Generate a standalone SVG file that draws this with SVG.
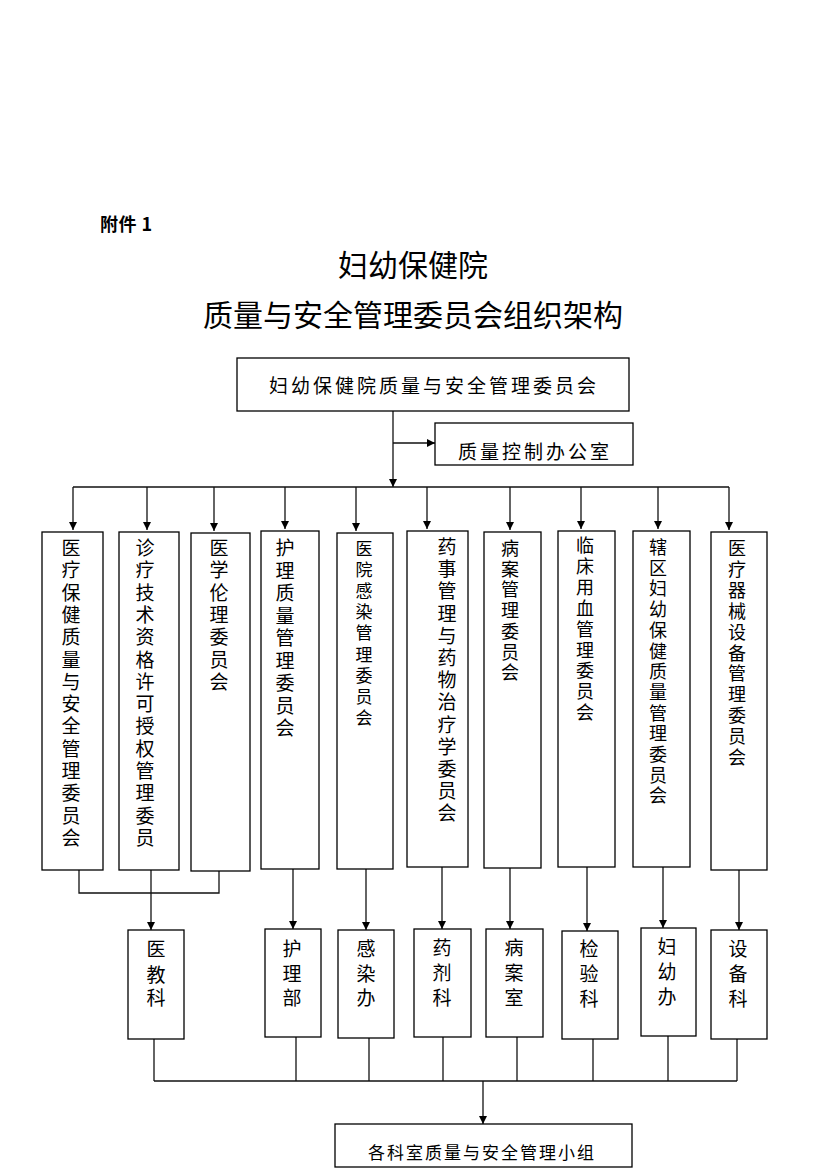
<svg xmlns="http://www.w3.org/2000/svg" width="826" height="1169" viewBox="0 0 826 1169">
<style>
  .bx{fill:#fff;stroke:#000;stroke-width:1.3}
  .ln{fill:none;stroke:#111;stroke-width:1.3}
  .t{font-family:"Noto Sans CJK SC","Noto Sans CJK JP",sans-serif;fill:#000}
  .v{font-size:19px;text-anchor:middle}
  .s{font-size:18px}
  .h{font-size:19px;letter-spacing:3px}
</style>
<defs>
  <marker id="ah" markerUnits="userSpaceOnUse" markerWidth="8" markerHeight="8" refX="8" refY="4" orient="auto">
    <path d="M0,0 L8,4 L0,8 z" fill="#000"/>
  </marker>
</defs>
<rect width="826" height="1169" fill="#fff"/>

<g id="titles">
  <text class="t" x="100" y="231" font-size="18" font-weight="bold" letter-spacing="0.5">附件 1</text>
  <text class="t" x="413" y="276" font-size="30" text-anchor="middle">妇幼保健院</text>
  <text class="t" x="413" y="326" font-size="30" text-anchor="middle">质量与安全管理委员会组织架构</text>
</g>

<g id="connectors">
  <line class="ln" x1="393" y1="411" x2="393" y2="487" marker-end="url(#ah)"/>
  <line class="ln" x1="393" y1="443" x2="435" y2="443" marker-end="url(#ah)"/>
  <line class="ln" x1="73" y1="487" x2="729" y2="487"/>
  <line class="ln" x1="73" y1="487" x2="73" y2="530" marker-end="url(#ah)"/>
  <line class="ln" x1="147" y1="487" x2="147" y2="530" marker-end="url(#ah)"/>
  <line class="ln" x1="214" y1="487" x2="214" y2="531" marker-end="url(#ah)"/>
  <line class="ln" x1="285" y1="487" x2="285" y2="529" marker-end="url(#ah)"/>
  <line class="ln" x1="356" y1="487" x2="356" y2="531" marker-end="url(#ah)"/>
  <line class="ln" x1="427" y1="487" x2="427" y2="529" marker-end="url(#ah)"/>
  <line class="ln" x1="510" y1="487" x2="510" y2="530" marker-end="url(#ah)"/>
  <line class="ln" x1="581" y1="487" x2="581" y2="529" marker-end="url(#ah)"/>
  <line class="ln" x1="658" y1="487" x2="658" y2="529" marker-end="url(#ah)"/>
  <line class="ln" x1="729" y1="487" x2="729" y2="530" marker-end="url(#ah)"/>

  <polyline class="ln" points="79,870 79,893 219,893 219,871"/>
  <line class="ln" x1="151" y1="870" x2="151" y2="893"/>
  <line class="ln" x1="151" y1="893" x2="151" y2="930" marker-end="url(#ah)"/>
  <line class="ln" x1="293" y1="869" x2="293" y2="929" marker-end="url(#ah)"/>
  <line class="ln" x1="366" y1="869" x2="366" y2="930" marker-end="url(#ah)"/>
  <line class="ln" x1="442" y1="867" x2="442" y2="929" marker-end="url(#ah)"/>
  <line class="ln" x1="510" y1="868" x2="510" y2="929" marker-end="url(#ah)"/>
  <line class="ln" x1="587" y1="867" x2="587" y2="931" marker-end="url(#ah)"/>
  <line class="ln" x1="663" y1="867" x2="663" y2="928" marker-end="url(#ah)"/>
  <line class="ln" x1="739" y1="870" x2="739" y2="930" marker-end="url(#ah)"/>

  <line class="ln" x1="154" y1="1081" x2="737" y2="1081"/>
  <line class="ln" x1="154" y1="1039" x2="154" y2="1081"/>
  <line class="ln" x1="296" y1="1037" x2="296" y2="1081"/>
  <line class="ln" x1="369" y1="1038" x2="369" y2="1081"/>
  <line class="ln" x1="443" y1="1037" x2="443" y2="1081"/>
  <line class="ln" x1="517" y1="1037" x2="517" y2="1081"/>
  <line class="ln" x1="593" y1="1039" x2="593" y2="1081"/>
  <line class="ln" x1="668" y1="1036" x2="668" y2="1081"/>
  <line class="ln" x1="737" y1="1039" x2="737" y2="1081"/>
  <line class="ln" x1="483" y1="1081" x2="483" y2="1124" marker-end="url(#ah)"/>
</g>

<g id="top">
  <rect class="bx" x="237" y="358" width="392" height="53"/>
  <text class="t h" x="269" y="393">妇幼保健院质量与安全管理委员会</text>
</g>
<g id="qc">
  <rect class="bx" x="435" y="423" width="198" height="42"/>
  <text class="t h" x="458" y="459">质量控制办公室</text>
</g>

<g id="c1">
  <rect class="bx" x="42" y="532" width="61" height="338"/>
  <text class="t v"><tspan x="71" y="555">医</tspan><tspan x="71" y="577.3">疗</tspan><tspan x="71" y="599.6">保</tspan><tspan x="71" y="621.9">健</tspan><tspan x="71" y="644.2">质</tspan><tspan x="71" y="666.5">量</tspan><tspan x="71" y="688.8">与</tspan><tspan x="71" y="711.1">安</tspan><tspan x="71" y="733.4">全</tspan><tspan x="71" y="755.7">管</tspan><tspan x="71" y="778">理</tspan><tspan x="71" y="800.3">委</tspan><tspan x="71" y="822.6">员</tspan><tspan x="71" y="844.9">会</tspan></text>
</g>
<g id="c2">
  <rect class="bx" x="119" y="532" width="60" height="338"/>
  <text class="t v"><tspan x="145" y="555">诊</tspan><tspan x="145" y="577.3">疗</tspan><tspan x="145" y="599.6">技</tspan><tspan x="145" y="621.9">术</tspan><tspan x="145" y="644.2">资</tspan><tspan x="145" y="666.5">格</tspan><tspan x="145" y="688.8">许</tspan><tspan x="145" y="711.1">可</tspan><tspan x="145" y="733.4">授</tspan><tspan x="145" y="755.7">权</tspan><tspan x="145" y="778">管</tspan><tspan x="145" y="800.3">理</tspan><tspan x="145" y="822.6">委</tspan><tspan x="145" y="844.9">员</tspan></text>
</g>
<g id="c3">
  <rect class="bx" x="191" y="533" width="59" height="338"/>
  <text class="t v"><tspan x="219" y="555">医</tspan><tspan x="219" y="577.3">学</tspan><tspan x="219" y="599.6">伦</tspan><tspan x="219" y="621.9">理</tspan><tspan x="219" y="644.2">委</tspan><tspan x="219" y="666.5">员</tspan><tspan x="219" y="688.8">会</tspan></text>
</g>
<g id="c4">
  <rect class="bx" x="261" y="531" width="58" height="338"/>
  <text class="t v"><tspan x="285" y="555">护</tspan><tspan x="285" y="577.5">理</tspan><tspan x="285" y="600">质</tspan><tspan x="285" y="622.5">量</tspan><tspan x="285" y="645">管</tspan><tspan x="285" y="667.5">理</tspan><tspan x="285" y="690">委</tspan><tspan x="285" y="712.5">员</tspan><tspan x="285" y="735">会</tspan></text>
</g>
<g id="c5">
  <rect class="bx" x="337" y="533" width="56" height="336"/>
  <text class="t v" style="font-size:17px"><tspan x="364" y="555">医</tspan><tspan x="364" y="576.1">院</tspan><tspan x="364" y="597.2">感</tspan><tspan x="364" y="618.3">染</tspan><tspan x="364" y="639.4">管</tspan><tspan x="364" y="660.5">理</tspan><tspan x="364" y="681.6">委</tspan><tspan x="364" y="702.7">员</tspan><tspan x="364" y="723.8">会</tspan></text>
</g>
<g id="c6">
  <rect class="bx" x="407" y="531" width="61" height="336"/>
  <text class="t v"><tspan x="447" y="554">药</tspan><tspan x="447" y="576.2">事</tspan><tspan x="447" y="598.4">管</tspan><tspan x="447" y="620.6">理</tspan><tspan x="447" y="642.8">与</tspan><tspan x="447" y="665">药</tspan><tspan x="447" y="687.2">物</tspan><tspan x="447" y="709.4">治</tspan><tspan x="447" y="731.6">疗</tspan><tspan x="447" y="753.8">学</tspan><tspan x="447" y="776">委</tspan><tspan x="447" y="798.2">员</tspan><tspan x="447" y="820.4">会</tspan></text>
</g>
<g id="c7">
  <rect class="bx" x="484" y="532" width="57" height="336"/>
  <text class="t v s"><tspan x="510" y="555">病</tspan><tspan x="510" y="575.7">案</tspan><tspan x="510" y="596.4">管</tspan><tspan x="510" y="617.1">理</tspan><tspan x="510" y="637.8">委</tspan><tspan x="510" y="658.5">员</tspan><tspan x="510" y="679.2">会</tspan></text>
</g>
<g id="c8">
  <rect class="bx" x="558" y="531" width="57" height="336"/>
  <text class="t v s"><tspan x="585" y="552">临</tspan><tspan x="585" y="572.9">床</tspan><tspan x="585" y="593.8">用</tspan><tspan x="585" y="614.7">血</tspan><tspan x="585" y="635.6">管</tspan><tspan x="585" y="656.5">理</tspan><tspan x="585" y="677.4">委</tspan><tspan x="585" y="698.3">员</tspan><tspan x="585" y="719.2">会</tspan></text>
</g>
<g id="c9">
  <rect class="bx" x="633" y="531" width="57" height="336"/>
  <text class="t v s"><tspan x="658" y="554">辖</tspan><tspan x="658" y="574.7">区</tspan><tspan x="658" y="595.4">妇</tspan><tspan x="658" y="616.1">幼</tspan><tspan x="658" y="636.8">保</tspan><tspan x="658" y="657.5">健</tspan><tspan x="658" y="678.2">质</tspan><tspan x="658" y="698.9">量</tspan><tspan x="658" y="719.6">管</tspan><tspan x="658" y="740.3">理</tspan><tspan x="658" y="761">委</tspan><tspan x="658" y="781.7">员</tspan><tspan x="658" y="802.4">会</tspan></text>
</g>
<g id="c10">
  <rect class="bx" x="711" y="532" width="56" height="338"/>
  <text class="t v s"><tspan x="737" y="555">医</tspan><tspan x="737" y="575.9">疗</tspan><tspan x="737" y="596.8">器</tspan><tspan x="737" y="617.7">械</tspan><tspan x="737" y="638.6">设</tspan><tspan x="737" y="659.5">备</tspan><tspan x="737" y="680.4">管</tspan><tspan x="737" y="701.3">理</tspan><tspan x="737" y="722.2">委</tspan><tspan x="737" y="743.1">员</tspan><tspan x="737" y="764">会</tspan></text>
</g>

<g id="d1">
  <rect class="bx" x="128" y="930" width="56" height="109"/>
  <text class="t v"><tspan x="156" y="956">医</tspan><tspan x="156" y="982">教</tspan><tspan x="156" y="1005">科</tspan></text>
</g>
<g id="d2">
  <rect class="bx" x="265" y="929" width="56" height="108"/>
  <text class="t v"><tspan x="292" y="956">护</tspan><tspan x="292" y="981">理</tspan><tspan x="292" y="1005">部</tspan></text>
</g>
<g id="d3">
  <rect class="bx" x="338" y="930" width="56" height="108"/>
  <text class="t v"><tspan x="366" y="956">感</tspan><tspan x="366" y="981">染</tspan><tspan x="366" y="1005">办</tspan></text>
</g>
<g id="d4">
  <rect class="bx" x="414" y="929" width="57" height="108"/>
  <text class="t v"><tspan x="442" y="955">药</tspan><tspan x="442" y="980">剂</tspan><tspan x="442" y="1005">科</tspan></text>
</g>
<g id="d5">
  <rect class="bx" x="486" y="929" width="57" height="108"/>
  <text class="t v"><tspan x="514" y="955">病</tspan><tspan x="514" y="980">案</tspan><tspan x="514" y="1005">室</tspan></text>
</g>
<g id="d6">
  <rect class="bx" x="562" y="931" width="56" height="108"/>
  <text class="t v"><tspan x="589" y="956">检</tspan><tspan x="589" y="981">验</tspan><tspan x="589" y="1006">科</tspan></text>
</g>
<g id="d7">
  <rect class="bx" x="641" y="928" width="55" height="108"/>
  <text class="t v"><tspan x="667" y="954">妇</tspan><tspan x="667" y="979">幼</tspan><tspan x="667" y="1004">办</tspan></text>
</g>
<g id="d8">
  <rect class="bx" x="711" y="930" width="56" height="109"/>
  <text class="t v"><tspan x="738" y="956">设</tspan><tspan x="738" y="981">备</tspan><tspan x="738" y="1006">科</tspan></text>
</g>

<g id="bottom">
  <rect class="bx" x="335" y="1124" width="297" height="43"/>
  <text class="t" x="368" y="1159" font-size="17" letter-spacing="2">各科室质量与安全管理小组</text>
</g>
</svg>
